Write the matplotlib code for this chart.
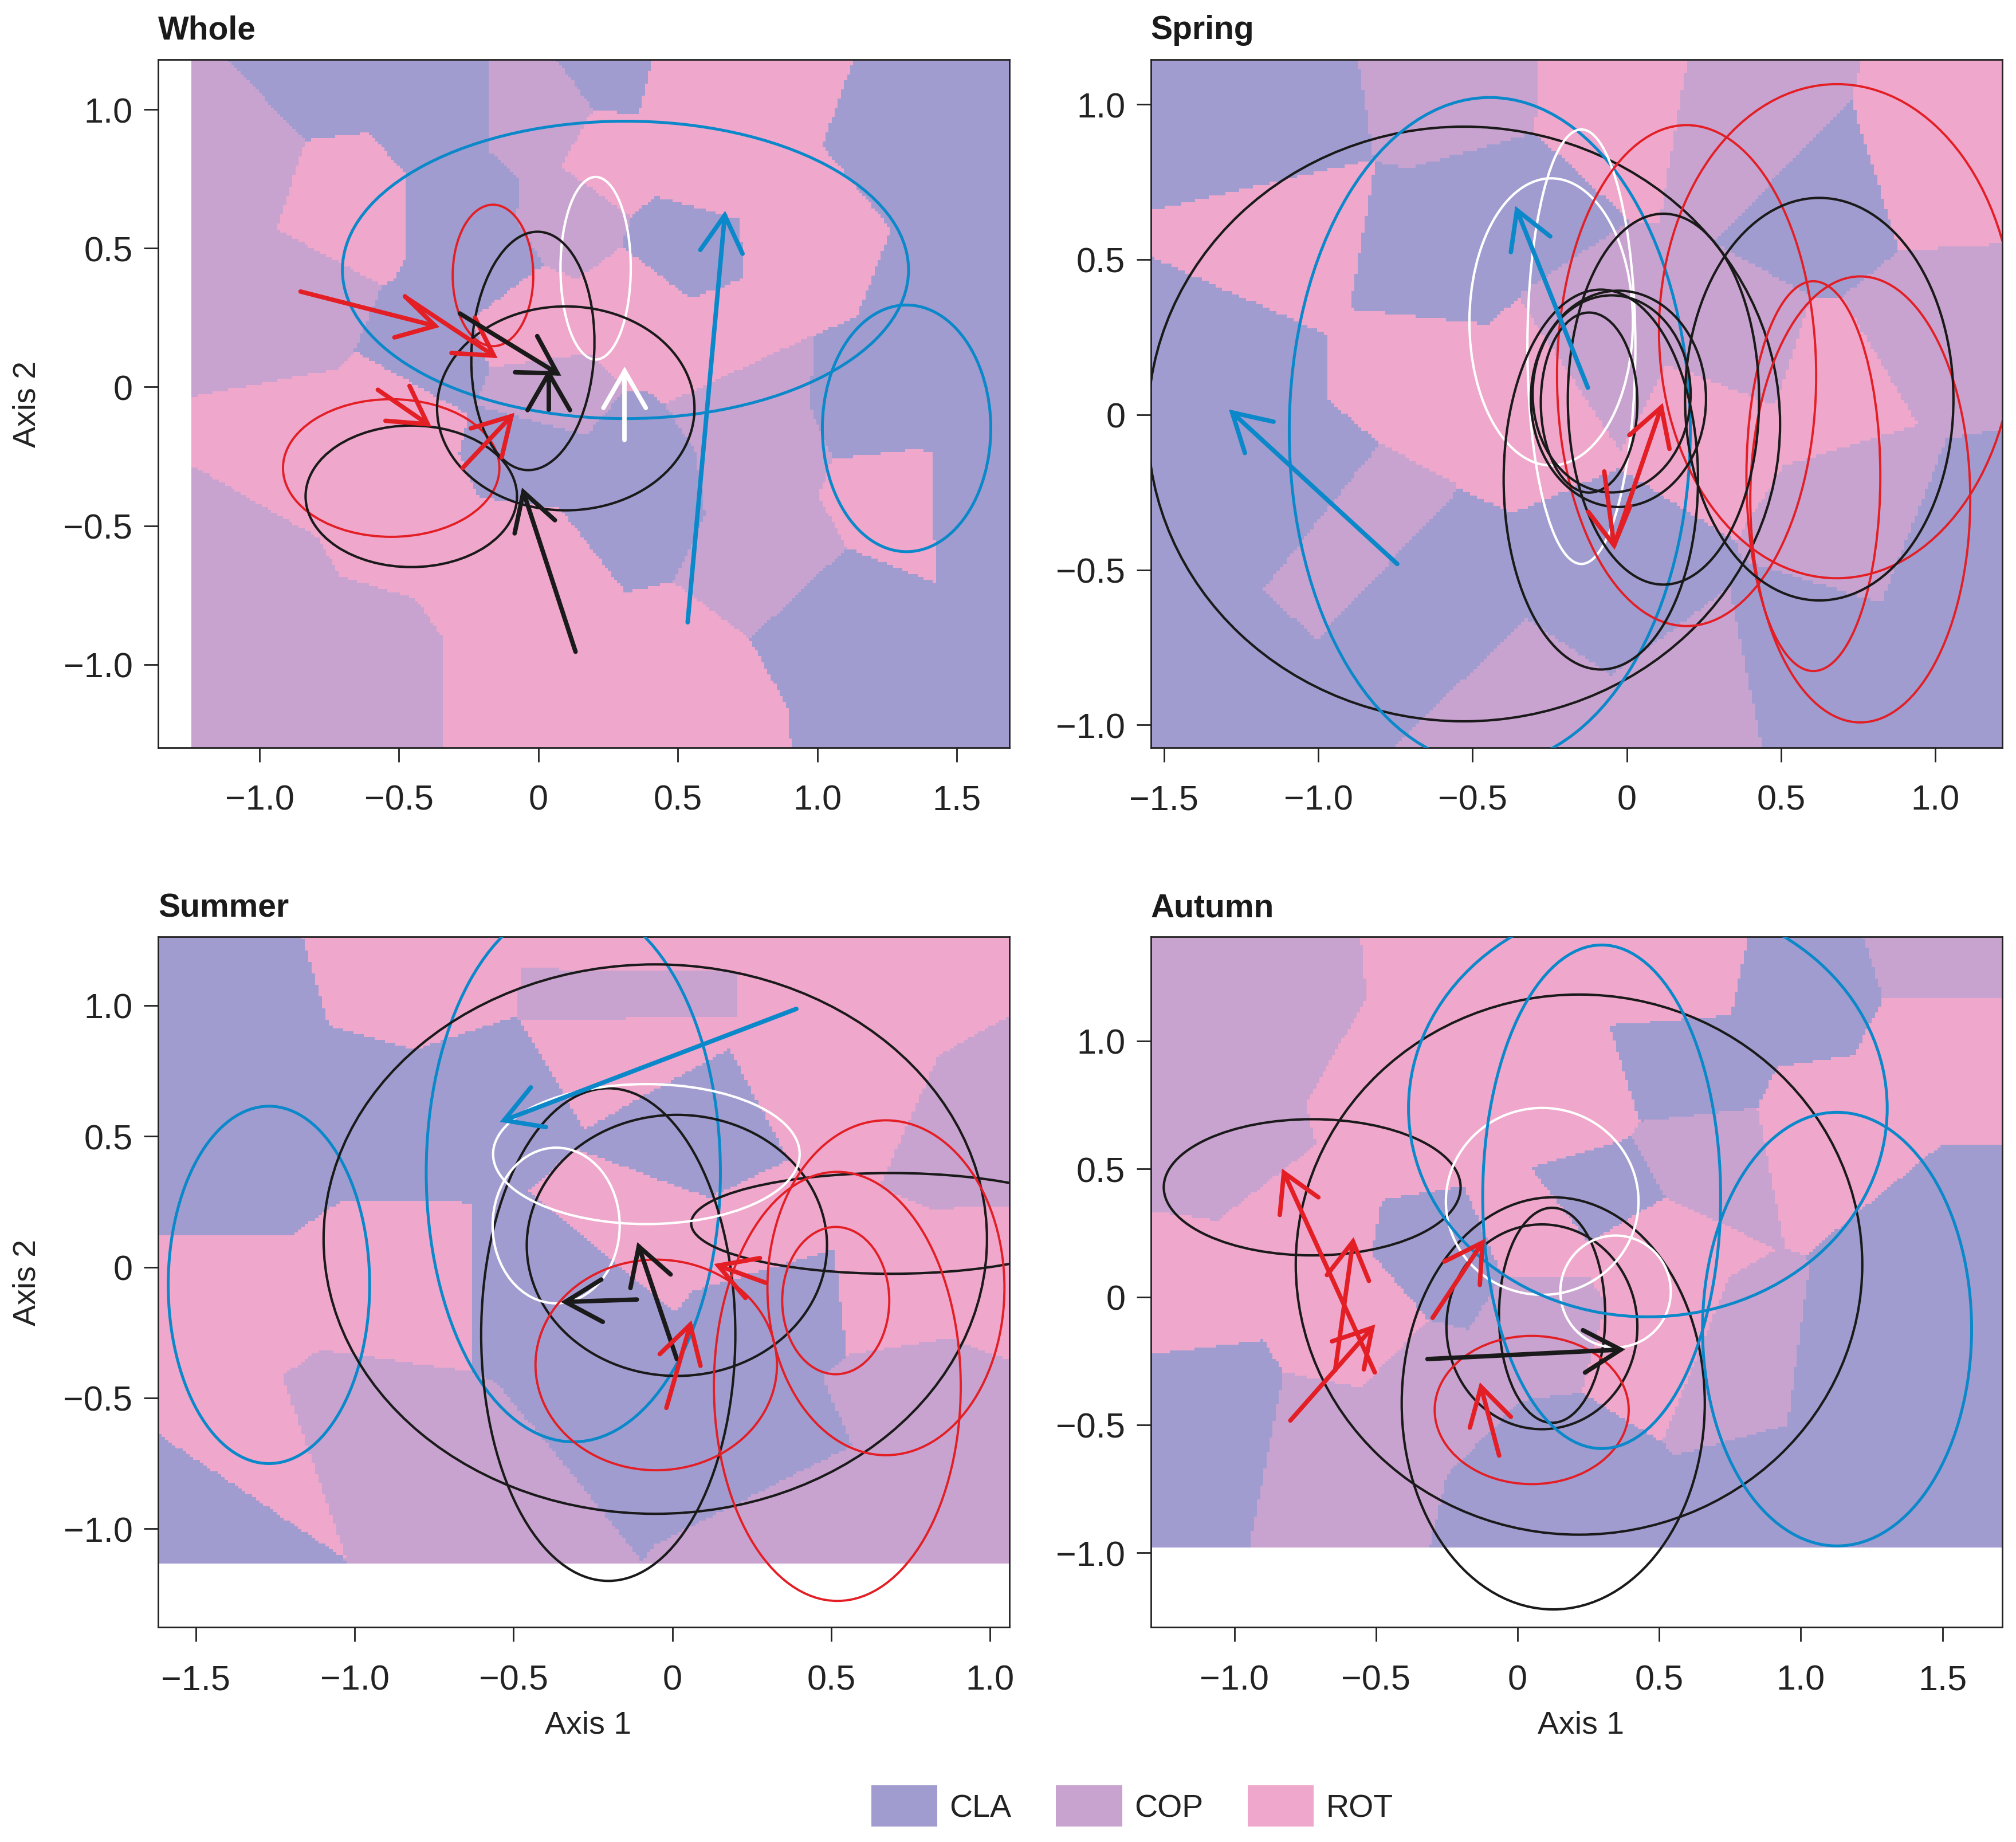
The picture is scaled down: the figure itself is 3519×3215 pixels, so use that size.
import numpy as np
import matplotlib
matplotlib.use("Agg")
import matplotlib.pyplot as plt
from matplotlib.patches import Ellipse, Patch
from matplotlib.colors import ListedColormap

plt.rcParams['font.family'] = ['Liberation Sans', 'DejaVu Sans']
plt.rcParams['axes.unicode_minus'] = True

# ---------------- data ----------------
CLASSES = ['CLA', 'COP', 'ROT']
CLASS_COLORS = ['#A09CCF', '#C8A3CF', '#EFA7CB']
LINE_COLORS = {'black': '#1A1A1A', 'red': '#E31E24', 'blue': '#0A88C9', 'white': '#FFFFFF'}

TITLES = ['Whole', 'Spring', 'Summer', 'Autumn']

XLIMS = [(-1.364, 1.688), (-1.543, 1.218), (-1.619, 1.060), (-1.295, 1.712)]
YLIMS = [(-1.300, 1.181), (-1.073, 1.145), (-1.377, 1.262), (-1.291, 1.406)]
# extent of the classified background (x0, x1, y0, y1)
BG_EXTENT = [(-1.245, 1.688, -1.300, 1.181), (-1.543, 1.218, -1.073, 1.145),
             (-1.619, 1.060, -1.134, 1.262), (-1.295, 1.712, -0.98, 1.406)]

XTICKS = [[-1.0, -0.5, 0, 0.5, 1.0, 1.5], [-1.5, -1.0, -0.5, 0, 0.5, 1.0],
          [-1.5, -1.0, -0.5, 0, 0.5, 1.0], [-1.0, -0.5, 0, 0.5, 1.0, 1.5]]
YTICKS = [[-1.0, -0.5, 0, 0.5, 1.0]] * 4

# classification seeds: (x, y, class)
WHOLE_SEEDS = [
    (-0.740, 1.140, 'CLA'), (-0.349, 0.953, 'CLA'), (-0.271, 0.666, 'CLA'), (0.300, 1.170, 'CLA'),
    (1.372, 0.873, 'CLA'), (1.470, 0.315, 'CLA'), (1.410, -0.004, 'CLA'), (0.512, 0.507, 'CLA'),
    (0.316, -0.322, 'CLA'), (1.275, -1.040, 'CLA'), (1.079, -0.800, 'CLA'), (-0.192, 0.443, 'CLA'),
    (-0.388, 0.092, 'CLA'), (-0.036, -0.195, 'CLA'), (1.600, -0.400, 'CLA'), (1.200, -0.080, 'CLA'),
    (-1.090, 0.800, 'COP'), (-1.073, -0.721, 'COP'), (-0.681, -1.040, 'COP'), (-0.877, 0.299, 'COP'),
    (0.000, 0.953, 'COP'), (0.825, -0.243, 'COP'), (0.884, -0.593, 'COP'), (0.003, -0.051, 'COP'),
    (0.746, -0.051, 'COP'), (0.120, 0.620, 'COP'),
    (-0.681, 0.666, 'ROT'), (-0.779, -0.211, 'ROT'), (-0.486, -0.083, 'ROT'), (-0.486, -0.402, 'ROT'),
    (0.003, -1.040, 'ROT'), (0.492, -1.119, 'ROT'), (-0.095, -0.641, 'ROT'), (0.746, 1.096, 'ROT'),
    (0.500, 1.120, 'ROT'), (0.590, 0.794, 'ROT'), (0.942, 0.523, 'ROT'), (0.258, 0.809, 'ROT'),
    (0.355, 0.299, 'ROT'), (1.236, -0.402, 'ROT'), (-0.036, 0.236, 'ROT'), (0.649, 0.156, 'ROT'),
]
SPRING_SEEDS = [
    (-1.195, 0.939, 'CLA'), (-0.398, 0.682, 'CLA'), (-0.629, 0.469, 'CLA'), (-1.283, 0.155, 'CLA'),
    (-1.018, -0.273, 'CLA'), (-1.372, -0.843, 'CLA'), (-0.629, -0.630, 'CLA'), (-0.044, -0.558, 'CLA'),
    (0.660, 0.700, 'CLA'), (0.575, -0.843, 'CLA'), (1.106, -0.416, 'CLA'),
    (-0.500, 1.050, 'COP'), (0.416, 0.939, 'COP'), (-0.930, -0.344, 'COP'), (-0.310, -0.957, 'COP'),
    (-0.098, 0.226, 'COP'), (0.363, 0.155, 'COP'), (0.752, -0.273, 'COP'), (1.000, 0.270, 'COP'),
    (0.221, -0.915, 'COP'),
    (-0.080, 1.025, 'ROT'), (0.964, 0.797, 'ROT'), (-1.107, 0.554, 'ROT'), (-0.664, 0.155, 'ROT'),
    (-0.310, 0.084, 'ROT'), (0.310, 0.012, 'ROT'), (0.650, 0.060, 'ROT'),
]
SUMMER_SEEDS = [
    (-1.447, 0.925, 'CLA'), (-1.361, 0.418, 'CLA'), (-0.932, 0.587, 'CLA'), (-0.590, 0.672, 'CLA'),
    (-1.515, -0.934, 'CLA'), (-0.332, -0.089, 'CLA'), (-0.161, -0.562, 'CLA'), (0.062, 0.469, 'CLA'),
    (0.353, -0.123, 'CLA'), (0.285, -0.681, 'CLA'),
    (-0.204, 1.035, 'COP'), (0.987, 0.502, 'COP'), (-0.590, -0.850, 'COP'),
    (0.439, -0.934, 'COP'), (0.782, -0.512, 'COP'), (-1.018, -0.596, 'COP'),
    (-0.761, 1.094, 'ROT'), (-0.200, 1.230, 'ROT'), (-0.200, 0.860, 'ROT'), (0.610, 1.060, 'ROT'),
    (0.525, 0.672, 'ROT'), (1.000, -0.050, 'ROT'),
    (-1.361, -0.174, 'ROT'), (-0.932, -0.089, 'ROT'), (-1.310, -0.680, 'ROT'), (-0.075, 0.164, 'ROT'),
    (0.267, 0.114, 'ROT'), (0.696, -0.089, 'ROT'),
]
AUTUMN_SEEDS = [
    (-1.108, -0.480, 'CLA'), (0.147, -0.738, 'CLA'), (1.209, -0.308, 'CLA'), (1.499, 0.208, 'CLA'),
    (0.920, -0.824, 'CLA'), (1.016, 1.205, 'CLA'), (0.591, 0.861, 'CLA'), (0.321, 0.397, 'CLA'),
    (-0.220, 0.105, 'CLA'),
    (-1.011, 1.067, 'COP'), (-1.108, 0.551, 'COP'), (-0.625, -0.566, 'COP'), (-0.336, -0.308, 'COP'),
    (1.499, 1.342, 'COP'), (0.630, 0.551, 'COP'), (0.051, -0.050, 'COP'), (0.750, -0.250, 'COP'),
    (-0.046, 1.153, 'ROT'), (0.550, 1.300, 'ROT'), (0.200, 0.750, 'ROT'), (0.450, 0.200, 'ROT'),
    (-0.336, 0.723, 'ROT'), (-0.818, 0.208, 'ROT'),
    (-1.185, 0.070, 'ROT'), (-0.529, -0.136, 'ROT'), (1.499, 0.981, 'ROT'), (1.113, 0.637, 'ROT'),
    (0.051, 0.208, 'ROT'), (0.533, -0.170, 'ROT'),
]
SEEDS = [WHOLE_SEEDS, SPRING_SEEDS, SUMMER_SEEDS, AUTUMN_SEEDS]

# ellipses: (cx, cy, width, height, angle, colour)
WHOLE_ELLIPSES = [
    (0.312, 0.422, 2.030, 1.072, 0, 'blue'), (1.320, -0.149, 0.604, 0.889, 0, 'blue'),
    (0.205, 0.428, 0.252, 0.658, 0, 'white'),
    (-0.163, 0.402, 0.289, 0.510, 0, 'red'), (-0.528, -0.292, 0.776, 0.496, 0, 'red'),
    (-0.020, 0.130, 0.440, 0.860, -3, 'black'), (0.098, -0.077, 0.923, 0.735, 0, 'black'),
    (-0.456, -0.394, 0.758, 0.510, 0, 'black'),
]
SPRING_ELLIPSES = [
    (-0.528, -0.030, 2.050, 1.916, 0, 'black'), (-0.444, -0.053, 1.300, 2.150, 0, 'blue'),
    (-0.147, 0.219, 0.350, 1.400, 0, 'white'), (-0.245, 0.299, 0.530, 0.925, 0, 'white'),
    (0.194, 0.126, 0.840, 1.614, 0, 'red'), (0.681, 0.269, 1.153, 1.592, 0, 'red'),
    (0.605, -0.198, 0.434, 1.256, 0, 'red'), (0.757, -0.273, 0.713, 1.437, 0, 'red'),
    (0.624, 0.050, 0.870, 1.297, 0, 'black'), (0.119, 0.050, 0.620, 1.195, 0, 'black'),
    (-0.084, -0.209, 0.630, 1.224, 0, 'black'), (-0.122, 0.039, 0.313, 0.580, 0, 'black'),
    (-0.027, 0.051, 0.568, 0.697, 0, 'black'), (-0.049, 0.067, 0.512, 0.635, 0, 'black'),
]
SUMMER_ELLIPSES = [
    (-1.270, -0.068, 0.634, 1.366, 0, 'blue'), (-0.312, 0.362, 0.926, 2.060, 0, 'blue'),
    (-0.054, 0.107, 2.088, 2.100, 0, 'black'), (-0.202, -0.258, 0.800, 1.883, 0, 'black'),
    (0.014, 0.083, 0.945, 0.998, 0, 'black'), (0.687, 0.167, 1.256, 0.385, 0, 'black'),
    (-0.082, 0.432, 0.965, 0.535, 0, 'white'), (-0.366, 0.159, 0.400, 0.595, 0, 'white'),
    (-0.051, -0.374, 0.760, 0.805, 0, 'red'), (0.519, -0.456, 0.777, 1.640, 0, 'red'),
    (0.672, -0.079, 0.746, 1.280, 0, 'red'), (0.514, -0.128, 0.337, 0.563, 0, 'red'),
]
AUTUMN_ELLIPSES = [
    (-0.725, 0.428, 1.048, 0.532, 0, 'black'), (0.217, 0.126, 2.000, 2.110, 0, 'black'),
    (0.126, -0.416, 1.070, 1.610, 0, 'black'), (0.086, -0.117, 0.674, 0.800, 0, 'black'),
    (0.122, -0.072, 0.375, 0.840, 0, 'black'),
    (0.087, 0.373, 0.680, 0.730, 0, 'white'), (0.346, 0.021, 0.390, 0.437, 0, 'white'),
    (0.050, -0.442, 0.685, 0.579, 0, 'red'),
    (0.460, 0.737, 1.690, 1.630, 0, 'blue'), (0.297, 0.391, 0.840, 1.967, 0, 'blue'),
    (1.128, -0.126, 0.950, 1.694, 0, 'blue'),
]
ELLIPSES = [WHOLE_ELLIPSES, SPRING_ELLIPSES, SUMMER_ELLIPSES, AUTUMN_ELLIPSES]

# arrows: (x_from, y_from, x_to, y_to, colour)
WHOLE_ARROWS = [
    (-0.853, 0.344, -0.370, 0.220, 'red'), (-0.475, 0.323, -0.160, 0.113, 'red'),
    (-0.576, -0.010, -0.397, -0.134, 'red'), (-0.272, -0.292, -0.097, -0.105, 'red'),
    (-0.282, 0.265, 0.068, 0.049, 'black'), (0.037, -0.082, 0.037, 0.049, 'black'),
    (0.133, -0.954, -0.054, -0.378, 'black'),
    (0.535, -0.848, 0.668, 0.619, 'blue'), (0.309, -0.191, 0.309, 0.057, 'white'),
]
SPRING_ARROWS = [
    (-0.744, -0.481, -1.279, 0.007, 'blue'), (-0.126, 0.087, -0.356, 0.659, 'blue'),
    (-0.073, -0.183, -0.041, -0.421, 'red'), (-0.041, -0.421, 0.112, 0.024, 'red'),
]
SUMMER_ARROWS = [
    (0.390, 0.987, -0.530, 0.561, 'blue'),
    (-0.112, -0.124, -0.337, -0.133, 'black'), (0.014, -0.352, -0.106, 0.079, 'black'),
    (-0.019, -0.538, 0.056, -0.220, 'red'), (0.294, -0.060, 0.144, 0.006, 'red'),
]
AUTUMN_ARROWS = [
    (-0.318, -0.243, 0.364, -0.206, 'black'),
    (-0.504, -0.295, -0.825, 0.485, 'red'), (-0.644, -0.287, -0.581, 0.216, 'red'),
    (-0.802, -0.483, -0.513, -0.121, 'red'), (-0.065, -0.620, -0.129, -0.351, 'red'),
    (-0.300, -0.082, -0.124, 0.212, 'red'),
]
ARROWS = [WHOLE_ARROWS, SPRING_ARROWS, SUMMER_ARROWS, AUTUMN_ARROWS]

# ---------------- layout ----------------
W, H, DPI = 3519, 3216, 100
AX_POS = [[0.0784, 0.5939, 0.4222, 0.3736], [0.5708, 0.5939, 0.4225, 0.3736],
          [0.0784, 0.1165, 0.4222, 0.3747], [0.5708, 0.1165, 0.4225, 0.3747]]
FS_TICK = 44
FS_LABEL = 40
FS_TITLE = 41
ELL_LW = {'black': 3.0, 'red': 2.8, 'blue': 3.6, 'white': 3.0}
ARROW_LW = 5.6
HEAD_PX = 74
TEXT_COLOR = '#222222'


def fmt(v):
    if v == 0:
        return '0'
    s = f'{abs(v):.1f}'
    return ('\u2212' + s) if v < 0 else s


def classify(seeds, x0, x1, y0, y1, step=0.011):
    nx = int(round((x1 - x0) / step))
    ny = int(round((y1 - y0) / step))
    xs = x0 + (np.arange(nx) + 0.5) * (x1 - x0) / nx
    ys = y0 + (np.arange(ny) + 0.5) * (y1 - y0) / ny
    X, Y = np.meshgrid(xs, ys)
    sx = np.array([s[0] for s in seeds])
    sy = np.array([s[1] for s in seeds])
    sc = np.array([CLASSES.index(s[2]) for s in seeds])
    d = (X[..., None] - sx) ** 2 + (Y[..., None] - sy) ** 2
    return sc[d.argmin(-1)]


def draw_arrow(ax, x0, y0, x1, y1, color):
    c = LINE_COLORS[color]
    ax.plot([x0, x1], [y0, y1], color=c, lw=ARROW_LW, solid_capstyle='round', zorder=4)
    T = ax.transData
    p0 = T.transform((x0, y0))
    p1 = T.transform((x1, y1))
    u = (p1 - p0) / np.hypot(*(p1 - p0))
    back = -u
    pts = []
    for ang in (np.pi / 6, -np.pi / 6):
        ca, sa = np.cos(ang), np.sin(ang)
        r = np.array([back[0] * ca - back[1] * sa, back[0] * sa + back[1] * ca])
        pts.append(p1 + HEAD_PX * r)
    inv = T.inverted()
    b1 = inv.transform(pts[0])
    b2 = inv.transform(pts[1])
    ax.plot([b1[0], x1, b2[0]], [b1[1], y1, b2[1]], color=c, lw=ARROW_LW,
            solid_capstyle='round', solid_joinstyle='miter', zorder=4)


fig = plt.figure(figsize=(W / DPI, H / DPI), dpi=DPI)
cmap = ListedColormap(CLASS_COLORS)

for i in range(4):
    ax = fig.add_axes(AX_POS[i])
    x0, x1, y0, y1 = BG_EXTENT[i]
    grid = classify(SEEDS[i], x0, x1, y0, y1)
    ax.imshow(grid, cmap=cmap, vmin=-0.5, vmax=2.5, origin='lower',
              extent=(x0, x1, y0, y1), interpolation='nearest', aspect='auto', zorder=0)
    ax.set_xlim(*XLIMS[i])
    ax.set_ylim(*YLIMS[i])
    for (cx, cy, w, h, ang, col) in ELLIPSES[i]:
        ax.add_patch(Ellipse((cx, cy), w, h, angle=ang, fill=False,
                             edgecolor=LINE_COLORS[col], lw=ELL_LW[col], zorder=3))
    for (xa, ya, xb, yb, col) in ARROWS[i]:
        draw_arrow(ax, xa, ya, xb, yb, col)

    ax.set_xticks(XTICKS[i])
    ax.set_xticklabels([fmt(v) for v in XTICKS[i]])
    ax.set_yticks(YTICKS[i])
    ax.set_yticklabels([fmt(v) for v in YTICKS[i]])
    ax.tick_params(axis='both', direction='out', length=18, width=2.0, labelsize=FS_TICK,
                   color=TEXT_COLOR, labelcolor=TEXT_COLOR)
    ax.tick_params(axis='x', pad=28)
    ax.tick_params(axis='y', pad=14)
    for sp in ax.spines.values():
        sp.set_linewidth(2.0)
        sp.set_color(TEXT_COLOR)
    ax.set_title(TITLES[i], loc='left', fontsize=FS_TITLE, fontweight='bold', pad=26,
                 color='#1A1A1A')
    if i in (0, 2):
        ax.set_ylabel('Axis 2', fontsize=FS_LABEL, color=TEXT_COLOR)
        ax.yaxis.set_label_coords(-0.136, 0.5)
    if i in (2, 3):
        ax.set_xlabel('Axis 1', fontsize=FS_LABEL, color=TEXT_COLOR)
        ax.xaxis.set_label_coords(0.505, -0.12)

handles = [Patch(facecolor=c, edgecolor='none') for c in CLASS_COLORS]
fig.legend(handles, CLASSES, loc='center', bbox_to_anchor=(0.5615, 0.0196), ncol=3,
           frameon=False, fontsize=FS_LABEL, handlelength=2.08, handleheight=1.6,
           handletextpad=0.38, columnspacing=1.4, borderpad=0.0, labelcolor=TEXT_COLOR)

fig.savefig('out.png', dpi=DPI)
